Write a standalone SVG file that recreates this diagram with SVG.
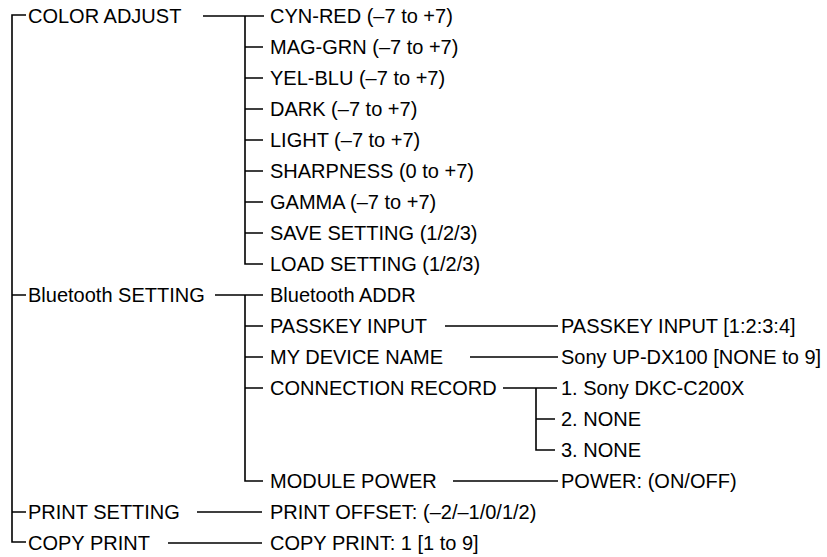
<svg xmlns="http://www.w3.org/2000/svg" width="827" height="557" viewBox="0 0 827 557">
<style>
text{font-family:"Liberation Sans",Arial,Helvetica,sans-serif;font-size:20px;fill:#000}
.c{fill:none;stroke:#000;stroke-width:1.6}
</style>
<rect width="827" height="557" fill="#fff"/>
<g id="connectors">
<path class="c" d="M26,15 H12 V542 H26 M12,295 H26 M12,512 H26"/>
<path class="c" d="M203,16 H264 M245,16 V264 H263 M245,47 H263 M245,78 H263 M245,109 H263 M245,140 H263 M245,171 H263 M245,202 H263 M245,233 H263"/>
<path class="c" d="M215,295 H263 M245,295 V481 H263 M245,326 H263 M245,357 H263 M245,388 H263"/>
<path class="c" d="M445,326 H558 M470,357 H558 M453,481 H558"/>
<path class="c" d="M503,388 H557 M536,388 V450 H555 M536,419 H555"/>
<path class="c" d="M197,512 H262 M168,543 H262"/>
</g>
<g id="color-adjust"><text x="28" y="23">COLOR ADJUST</text></g>
<g id="cyn-red"><text x="270" y="23">CYN-RED (–7 to +7)</text></g>
<g id="mag-grn"><text x="270" y="54">MAG-GRN (–7 to +7)</text></g>
<g id="yel-blu"><text x="270" y="85">YEL-BLU (–7 to +7)</text></g>
<g id="dark"><text x="270" y="116">DARK (–7 to +7)</text></g>
<g id="light"><text x="270" y="147">LIGHT (–7 to +7)</text></g>
<g id="sharpness"><text x="270" y="178">SHARPNESS (0 to +7)</text></g>
<g id="gamma"><text x="270" y="209">GAMMA (–7 to +7)</text></g>
<g id="save-setting"><text x="270" y="240">SAVE SETTING (1/2/3)</text></g>
<g id="load-setting"><text x="270" y="271">LOAD SETTING (1/2/3)</text></g>
<g id="bluetooth-setting"><text x="28" y="302">Bluetooth SETTING</text></g>
<g id="bluetooth-addr"><text x="270" y="302">Bluetooth ADDR</text></g>
<g id="passkey-input"><text x="270" y="333">PASSKEY INPUT</text></g>
<g id="passkey-value"><text x="561" y="333">PASSKEY INPUT [1:2:3:4]</text></g>
<g id="my-device-name"><text x="270" y="364">MY DEVICE NAME</text></g>
<g id="device-name-value"><text x="561" y="364">Sony UP-DX100 [NONE to 9]</text></g>
<g id="connection-record"><text x="270" y="395">CONNECTION RECORD</text></g>
<g id="record-1"><text x="561" y="395">1. Sony DKC-C200X</text></g>
<g id="record-2"><text x="561" y="426">2. NONE</text></g>
<g id="record-3"><text x="561" y="457">3. NONE</text></g>
<g id="module-power"><text x="270" y="488">MODULE POWER</text></g>
<g id="power-value"><text x="561" y="488">POWER: (ON/OFF)</text></g>
<g id="print-setting"><text x="28" y="519">PRINT SETTING</text></g>
<g id="print-offset"><text x="270" y="519">PRINT OFFSET: (–2/–1/0/1/2)</text></g>
<g id="copy-print"><text x="28" y="550">COPY PRINT</text></g>
<g id="copy-print-value"><text x="270" y="550">COPY PRINT: 1 [1 to 9]</text></g>
</svg>
